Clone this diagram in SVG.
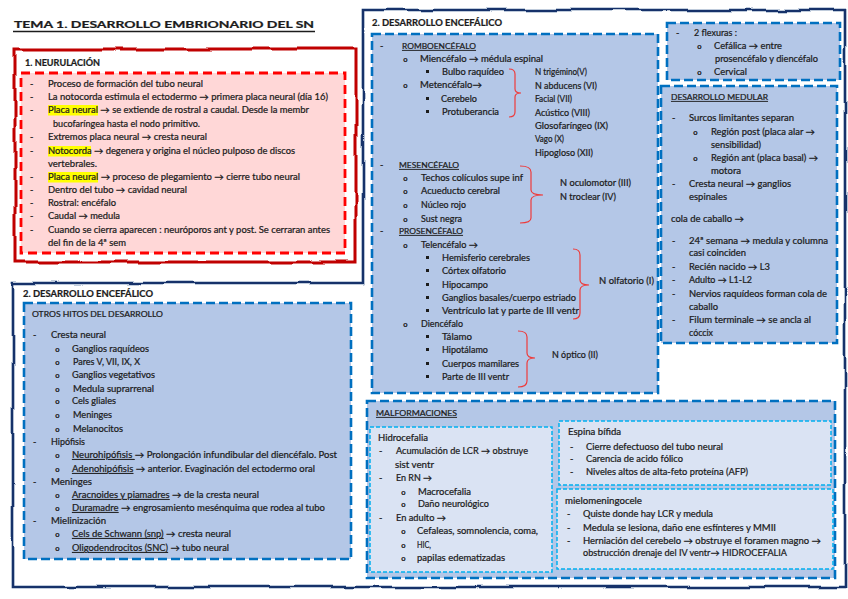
<svg xmlns="http://www.w3.org/2000/svg" width="848" height="599" viewBox="0 0 848 599">
<style>
.t{font-family:Lato,"Liberation Sans",sans-serif;font-size:9px;fill:#1c1c1c;stroke:#1c1c1c;stroke-width:0.22}
.b{font-weight:bold}
.h{font-size:7.8px}
.u{text-decoration:underline}
.bl{font-family:"Liberation Mono",monospace;font-weight:bold;font-size:8px;fill:#1c1c1c}
.blue{fill:#b4c7e7;stroke:#0070c0;stroke-width:2.6;stroke-dasharray:9 4}
.light{fill:#dae3f3;stroke:#00b0f0;stroke-width:1.5;stroke-dasharray:4 2}
.pink{fill:#ffd7d7;stroke:#ff0000;stroke-width:2.8;stroke-dasharray:9 5}
.brace{fill:none;stroke:#ee3b3b;stroke-width:1.2}
.sq{fill:#1c1c1c}
</style>
<defs>
<filter id="wob" filterUnits="userSpaceOnUse" x="0" y="0" width="848" height="599">
<feTurbulence type="fractalNoise" baseFrequency="0.025" numOctaves="1" seed="4"/>
<feDisplacementMap in="SourceGraphic" scale="6" xChannelSelector="R" yChannelSelector="G"/>
</filter>
<filter id="wob2" filterUnits="userSpaceOnUse" x="0" y="0" width="848" height="599">
<feTurbulence type="fractalNoise" baseFrequency="0.03" numOctaves="1" seed="9"/>
<feDisplacementMap in="SourceGraphic" scale="6" xChannelSelector="R" yChannelSelector="G"/>
</filter>
</defs>
<rect width="848" height="599" fill="#ffffff"/>

<g id="title">
<text class="t b" x="14" y="28" font-size="14" textLength="300" lengthAdjust="spacingAndGlyphs">TEMA 1. DESARROLLO EMBRIONARIO DEL SN</text>
<line x1="13" y1="31.5" x2="315" y2="31.5" stroke="#1c1c1c" stroke-width="1.3"/>
</g>

<g id="outer-frames">
<path d="M15,49 L356,49 L356,262 L15,262 Z" fill="none" stroke="#c00000" stroke-width="3" filter="url(#wob2)"/>
<path d="M13,283 L363,283 L363,10 L845,10 L845,587 L13,587 Z" fill="none" stroke="#13306b" stroke-width="2.6" filter="url(#wob)"/>
</g>

<g id="neurulacion">
<text class="t b" x="25" y="66" textLength="75" lengthAdjust="spacingAndGlyphs">1. NEURULACIÓN</text>
<rect class="pink" x="21" y="73" width="324" height="180"/>
<rect x="48" y="105" width="50" height="10.5" fill="#ffff00"/>
<rect x="48" y="146" width="43" height="10.5" fill="#ffff00"/>
<rect x="48" y="172" width="50" height="10.5" fill="#ffff00"/>
<g class="t">
<text x="30" y="87">-</text><text x="48" y="87" textLength="155" lengthAdjust="spacingAndGlyphs">Proceso de formación del tubo neural</text>
<text x="30" y="100">-</text><text x="48" y="100" textLength="280" lengthAdjust="spacingAndGlyphs">La notocorda estimula el ectodermo → primera placa neural (día 16)</text>
<text x="30" y="113">-</text><text x="48" y="113" textLength="261" lengthAdjust="spacingAndGlyphs">Placa neural → se extiende de rostral a caudal. Desde la membr</text>
<text x="53" y="127" textLength="147" lengthAdjust="spacingAndGlyphs">bucofaríngea hasta el nodo primitivo.</text>
<text x="30" y="140">-</text><text x="48" y="140" textLength="159" lengthAdjust="spacingAndGlyphs">Extremos placa neural → cresta neural</text>
<text x="30" y="154">-</text><text x="48" y="154" textLength="247" lengthAdjust="spacingAndGlyphs">Notocorda → degenera y origina el núcleo pulposo de discos</text>
<text x="48" y="167" textLength="49" lengthAdjust="spacingAndGlyphs">vertebrales.</text>
<text x="30" y="180">-</text><text x="48" y="180" textLength="252" lengthAdjust="spacingAndGlyphs">Placa neural → proceso de plegamiento → cierre tubo neural</text>
<text x="30" y="193">-</text><text x="48" y="193" textLength="139" lengthAdjust="spacingAndGlyphs">Dentro del tubo → cavidad neural</text>
<text x="30" y="206">-</text><text x="48" y="206" textLength="68" lengthAdjust="spacingAndGlyphs">Rostral: encéfalo</text>
<text x="30" y="219">-</text><text x="48" y="219" textLength="72" lengthAdjust="spacingAndGlyphs">Caudal → medula</text>
<text x="30" y="233">-</text><text x="48" y="233" textLength="282" lengthAdjust="spacingAndGlyphs">Cuando se cierra aparecen : neuróporos ant y post. Se cerraran antes</text>
<text x="48" y="246" textLength="78" lengthAdjust="spacingAndGlyphs">del fin de la 4ª sem</text>
</g>
</g>

<g id="otros-hitos">
<text class="t b" x="23" y="297" textLength="130" lengthAdjust="spacingAndGlyphs">2. DESARROLLO ENCEFÁLICO</text>
<rect class="blue" x="24" y="303" width="327" height="256"/>
<text class="t h" x="32" y="317" textLength="131" lengthAdjust="spacingAndGlyphs">OTROS HITOS DEL DESARROLLO</text>
<g class="t">
<text x="33" y="338">-</text><text x="51" y="338" textLength="55" lengthAdjust="spacingAndGlyphs">Cresta neural</text>
<text x="72" y="352" textLength="77" lengthAdjust="spacingAndGlyphs">Ganglios raquídeos</text>
<text x="73" y="365" textLength="67" lengthAdjust="spacingAndGlyphs">Pares V, VII, IX, X</text>
<text x="72" y="378" textLength="83" lengthAdjust="spacingAndGlyphs">Ganglios vegetativos</text>
<text x="73" y="392" textLength="81" lengthAdjust="spacingAndGlyphs">Medula suprarrenal</text>
<text x="72" y="404" textLength="44" lengthAdjust="spacingAndGlyphs">Cels gliales</text>
<text x="73" y="418" textLength="39" lengthAdjust="spacingAndGlyphs">Meninges</text>
<text x="73" y="432" textLength="50" lengthAdjust="spacingAndGlyphs">Melanocitos</text>
<text x="33" y="445">-</text><text x="51" y="445" textLength="34" lengthAdjust="spacingAndGlyphs">Hipófisis</text>
<text x="72" y="458" textLength="265" lengthAdjust="spacingAndGlyphs"><tspan class="u">Neurohipófisis </tspan>→ Prolongación infundibular del diencéfalo.  Post</text>
<text x="72" y="472" textLength="243" lengthAdjust="spacingAndGlyphs"><tspan class="u">Adenohipófisis</tspan> → anterior. Evaginación del ectodermo oral</text>
<text x="33" y="485">-</text><text x="51" y="485" textLength="41" lengthAdjust="spacingAndGlyphs">Meninges</text>
<text x="72" y="498" textLength="187" lengthAdjust="spacingAndGlyphs"><tspan class="u">Aracnoides y piamadres</tspan> → de la cresta neural</text>
<text x="72" y="511" textLength="253" lengthAdjust="spacingAndGlyphs"><tspan class="u">Duramadre</tspan> → engrosamiento mesénquima que rodea al tubo</text>
<text x="33" y="524">-</text><text x="51" y="524" textLength="55" lengthAdjust="spacingAndGlyphs">Mielinización</text>
<text x="72" y="537" textLength="159" lengthAdjust="spacingAndGlyphs"><tspan class="u">Cels de Schwann (snp)</tspan> → cresta neural</text>
<text x="72" y="551" textLength="157" lengthAdjust="spacingAndGlyphs"><tspan class="u">Oligodendrocitos (SNC)</tspan> → tubo neural</text>
</g>
<g class="bl">
<text x="55" y="352">o</text><text x="55" y="365">o</text><text x="55" y="378">o</text><text x="55" y="392">o</text><text x="55" y="404">o</text><text x="55" y="418">o</text><text x="55" y="432">o</text>
<text x="55" y="458">o</text><text x="55" y="472">o</text><text x="55" y="498">o</text><text x="55" y="511">o</text><text x="55" y="537">o</text><text x="55" y="551">o</text>
</g>
</g>

<g id="desarrollo-encefalico">
<text class="t b" x="372" y="26" textLength="130" lengthAdjust="spacingAndGlyphs">2. DESARROLLO ENCEFÁLICO</text>
<rect class="blue" x="372" y="34" width="286" height="359"/>
<g class="t">
<text x="380" y="49">-</text><text class="h u" x="402" y="49" textLength="74" lengthAdjust="spacingAndGlyphs">ROMBOENCÉFALO</text>
<text x="420" y="62" textLength="123" lengthAdjust="spacingAndGlyphs">Miencéfalo → médula espinal</text>
<text x="442" y="75" textLength="62" lengthAdjust="spacingAndGlyphs">Bulbo raquídeo</text>
<text x="420" y="88" textLength="62" lengthAdjust="spacingAndGlyphs">Metencéfalo→</text>
<text x="441" y="102" textLength="36" lengthAdjust="spacingAndGlyphs">Cerebelo</text>
<text x="442" y="115" textLength="57" lengthAdjust="spacingAndGlyphs">Protuberancia</text>
<text x="535" y="75" textLength="52" lengthAdjust="spacingAndGlyphs">N trigémino(V)</text>
<text x="535" y="89" textLength="62" lengthAdjust="spacingAndGlyphs">N abducens (VI)</text>
<text x="535" y="102" textLength="37" lengthAdjust="spacingAndGlyphs">Facial (VII)</text>
<text x="535" y="116" textLength="55" lengthAdjust="spacingAndGlyphs">Acústico (VIII)</text>
<text x="535" y="129" textLength="73" lengthAdjust="spacingAndGlyphs">Glosofaríngeo (IX)</text>
<text x="535" y="142" textLength="29" lengthAdjust="spacingAndGlyphs">Vago (X)</text>
<text x="535" y="156" textLength="58" lengthAdjust="spacingAndGlyphs">Hipogloso (XII)</text>
<text x="380" y="168">-</text><text class="h u" x="399" y="168" textLength="60" lengthAdjust="spacingAndGlyphs">MESENCÉFALO</text>
<text x="421" y="181" textLength="102" lengthAdjust="spacingAndGlyphs">Techos colículos supe inf</text>
<text x="421" y="194" textLength="79" lengthAdjust="spacingAndGlyphs">Acueducto cerebral</text>
<text x="421" y="208" textLength="45" lengthAdjust="spacingAndGlyphs">Núcleo rojo</text>
<text x="421" y="222" textLength="41" lengthAdjust="spacingAndGlyphs">Sust negra</text>
<text x="560" y="186" textLength="71" lengthAdjust="spacingAndGlyphs">N oculomotor (III)</text>
<text x="560" y="200" textLength="56" lengthAdjust="spacingAndGlyphs">N troclear (IV)</text>
<text x="380" y="234">-</text><text class="h u" x="399" y="234" textLength="64" lengthAdjust="spacingAndGlyphs">PROSENCÉFALO</text>
<text x="421" y="248" textLength="57" lengthAdjust="spacingAndGlyphs">Telencéfalo →</text>
<text x="442" y="261" textLength="88" lengthAdjust="spacingAndGlyphs">Hemisferio cerebrales</text>
<text x="442" y="274" textLength="64" lengthAdjust="spacingAndGlyphs">Córtex olfatorio</text>
<text x="442" y="288" textLength="46" lengthAdjust="spacingAndGlyphs">Hipocampo</text>
<text x="442" y="301" textLength="134" lengthAdjust="spacingAndGlyphs">Ganglios basales/cuerpo estriado</text>
<text x="442" y="314" textLength="137" lengthAdjust="spacingAndGlyphs">Ventrículo lat y parte de III ventr</text>
<text x="599" y="284" textLength="55" lengthAdjust="spacingAndGlyphs">N olfatorio (I)</text>
<text x="421" y="327" textLength="42" lengthAdjust="spacingAndGlyphs">Diencéfalo</text>
<text x="442" y="340" textLength="30" lengthAdjust="spacingAndGlyphs">Tálamo</text>
<text x="442" y="353" textLength="46" lengthAdjust="spacingAndGlyphs">Hipotálamo</text>
<text x="442" y="367" textLength="77" lengthAdjust="spacingAndGlyphs">Cuerpos mamilares</text>
<text x="442" y="380" textLength="67" lengthAdjust="spacingAndGlyphs">Parte de III ventr</text>
<text x="552" y="358" textLength="46" lengthAdjust="spacingAndGlyphs">N óptico (II)</text>
</g>
<g class="bl">
<text x="403" y="62">o</text><text x="403" y="88">o</text>
<text x="403" y="181">o</text><text x="403" y="194">o</text><text x="403" y="208">o</text><text x="403" y="222">o</text>
<text x="403" y="248">o</text><text x="403" y="327">o</text>
</g>
<g class="sq">
<rect x="426" y="70" width="3" height="3"/><rect x="426" y="97" width="3" height="3"/><rect x="426" y="110" width="3" height="3"/>
<rect x="426" y="256" width="3" height="3"/><rect x="426" y="269" width="3" height="3"/><rect x="426" y="283" width="3" height="3"/><rect x="426" y="296" width="3" height="3"/><rect x="426" y="309" width="3" height="3"/>
<rect x="426" y="335" width="3" height="3"/><rect x="426" y="348" width="3" height="3"/><rect x="426" y="362" width="3" height="3"/><rect x="426" y="375" width="3" height="3"/>
</g>
</g>

<g id="connectors">
<path class="brace" d="M509,69 Q515,69 515,74 L515,89 Q515,93 521,93 Q515,93 515,97 L515,112 Q515,117 509,117"/>
<path class="brace" d="M520,166 Q531,166 531,172 L531,190 Q531,195 543,195 Q531,195 531,200 L531,218 Q531,223 520,223"/>
<path class="brace" d="M573,249 Q580,249 580,255 L580,280 Q580,285 589,285 Q580,285 580,290 L580,313 Q580,319 573,319"/>
<path class="brace" d="M518,331 Q527,331 527,337 L527,353 Q527,358 535,358 Q527,358 527,363 L527,381 Q527,387 518,387"/>
</g>

<g id="flexuras">
<rect class="blue" x="667" y="23" width="173" height="57"/>
<g class="t">
<text x="676" y="36">-</text><text x="694" y="36" textLength="43" lengthAdjust="spacingAndGlyphs">2 flexuras :</text>
<text x="714" y="49" textLength="68" lengthAdjust="spacingAndGlyphs">Cefálica → entre</text>
<text x="715" y="62" textLength="103" lengthAdjust="spacingAndGlyphs">prosencéfalo y diencéfalo</text>
<text x="714" y="75" textLength="33" lengthAdjust="spacingAndGlyphs">Cervical</text>
</g>
<g class="bl"><text x="697" y="49">o</text><text x="697" y="75">o</text></g>
</g>

<g id="desarrollo-medular">
<rect class="blue" x="661" y="86" width="176" height="257"/>
<g class="t">
<text class="h u" x="671" y="100" textLength="97" lengthAdjust="spacingAndGlyphs">DESARROLLO MEDULAR</text>
<text x="672" y="121">-</text><text x="689" y="121" textLength="105" lengthAdjust="spacingAndGlyphs">Surcos limitantes separan</text>
<text x="711" y="135" textLength="104" lengthAdjust="spacingAndGlyphs">Región post (placa alar →</text>
<text x="711" y="148" textLength="50" lengthAdjust="spacingAndGlyphs">sensibilidad)</text>
<text x="711" y="161" textLength="107" lengthAdjust="spacingAndGlyphs">Región ant (placa basal) →</text>
<text x="711" y="174" textLength="30" lengthAdjust="spacingAndGlyphs">motora</text>
<text x="672" y="187">-</text><text x="689" y="187" textLength="102" lengthAdjust="spacingAndGlyphs">Cresta neural → ganglios</text>
<text x="689" y="200" textLength="38" lengthAdjust="spacingAndGlyphs">espinales</text>
<text x="671" y="222" textLength="73" lengthAdjust="spacingAndGlyphs">cola de caballo →</text>
<text x="672" y="244">-</text><text x="689" y="244" textLength="139" lengthAdjust="spacingAndGlyphs">24ª semana → medula y columna</text>
<text x="689" y="256" textLength="57" lengthAdjust="spacingAndGlyphs">casi coinciden</text>
<text x="672" y="270">-</text><text x="689" y="270" textLength="81" lengthAdjust="spacingAndGlyphs">Recién nacido → L3</text>
<text x="672" y="283">-</text><text x="689" y="283" textLength="63" lengthAdjust="spacingAndGlyphs">Adulto → L1-L2</text>
<text x="672" y="297">-</text><text x="689" y="297" textLength="138" lengthAdjust="spacingAndGlyphs">Nervios raquídeos forman cola de</text>
<text x="689" y="310" textLength="29" lengthAdjust="spacingAndGlyphs">caballo</text>
<text x="672" y="323">-</text><text x="689" y="323" textLength="122" lengthAdjust="spacingAndGlyphs">Filum terminale → se ancla al</text>
<text x="689" y="336" textLength="24" lengthAdjust="spacingAndGlyphs">cóccix</text>
</g>
<g class="bl"><text x="693" y="135">o</text><text x="693" y="161">o</text></g>
</g>

<g id="malformaciones">
<rect class="blue" x="367" y="401" width="468" height="177"/>
<text class="t h u" x="376" y="416" textLength="81" lengthAdjust="spacingAndGlyphs">MALFORMACIONES</text>
</g>

<g id="hidrocefalia">
<rect class="light" x="370" y="427" width="182" height="145"/>
<g class="t">
<text x="378" y="441" textLength="50" lengthAdjust="spacingAndGlyphs">Hidrocefalia</text>
<text x="379" y="454">-</text><text x="396" y="454" textLength="132" lengthAdjust="spacingAndGlyphs">Acumulación de LCR → obstruye</text>
<text x="395" y="468" textLength="39" lengthAdjust="spacingAndGlyphs">sist ventr</text>
<text x="379" y="481">-</text><text x="396" y="481" textLength="36" lengthAdjust="spacingAndGlyphs">En RN →</text>
<text x="418" y="495" textLength="53" lengthAdjust="spacingAndGlyphs">Macrocefalia</text>
<text x="418" y="507" textLength="71" lengthAdjust="spacingAndGlyphs">Daño neurológico</text>
<text x="379" y="521">-</text><text x="396" y="521" textLength="50" lengthAdjust="spacingAndGlyphs">En adulto →</text>
<text x="417" y="534" textLength="121" lengthAdjust="spacingAndGlyphs">Cefaleas, somnolencia, coma,</text>
<text x="417" y="548" textLength="14" lengthAdjust="spacingAndGlyphs">HIC,</text>
<text x="417" y="561" textLength="88" lengthAdjust="spacingAndGlyphs">papilas edematizadas</text>
</g>
<g class="bl"><text x="401" y="495">o</text><text x="401" y="507">o</text><text x="401" y="534">o</text><text x="401" y="548">o</text><text x="401" y="561">o</text></g>
</g>

<g id="espina-bifida">
<rect class="light" x="559" y="421" width="272" height="64"/>
<g class="t">
<text x="568" y="435" textLength="53" lengthAdjust="spacingAndGlyphs">Espina bífida</text>
<text x="570" y="450">-</text><text x="586" y="450" textLength="137" lengthAdjust="spacingAndGlyphs">Cierre defectuoso del tubo neural</text>
<text x="570" y="462">-</text><text x="586" y="462" textLength="97" lengthAdjust="spacingAndGlyphs">Carencia de acido fólico</text>
<text x="570" y="475">-</text><text x="586" y="475" textLength="162" lengthAdjust="spacingAndGlyphs">Niveles altos de alta-feto proteína (AFP)</text>
</g>
</g>

<g id="mielomeningocele">
<rect class="light" x="557" y="489" width="276" height="80"/>
<g class="t">
<text x="565" y="504" textLength="77" lengthAdjust="spacingAndGlyphs">mielomeningocele</text>
<text x="567" y="517">-</text><text x="583" y="517" textLength="130" lengthAdjust="spacingAndGlyphs">Quiste donde hay LCR y medula</text>
<text x="567" y="531">-</text><text x="583" y="531" textLength="193" lengthAdjust="spacingAndGlyphs">Medula se lesiona, daño ene esfínteres y MMII</text>
<text x="567" y="544">-</text><text x="583" y="544" textLength="238" lengthAdjust="spacingAndGlyphs">Herniación del cerebelo → obstruye el foramen magno →</text>
<text x="583" y="556" textLength="204" lengthAdjust="spacingAndGlyphs">obstrucción drenaje del IV ventr→ HIDROCEFALIA</text>
</g>
</g>
</svg>
